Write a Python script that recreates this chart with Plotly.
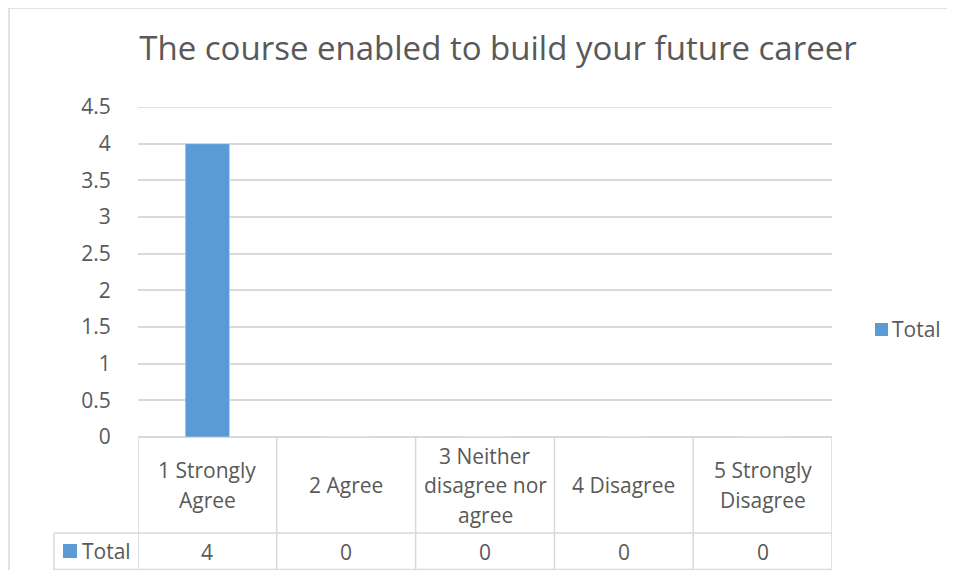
import plotly.graph_objects as go

categories = ["1 Strongly Agree", "2 Agree", "3 Neither disagree nor agree", "4 Disagree", "5 Strongly Disagree"]
category_lines = [["1 Strongly", "Agree"], ["2 Agree"], ["3 Neither", "disagree nor", "agree"],
                  ["4 Disagree"], ["5 Strongly", "Disagree"]]
totals = [4, 0, 0, 0, 0]
series_name = "Total"
y_ticks = [0, 0.5, 1, 1.5, 2, 2.5, 3, 3.5, 4, 4.5]
title_text = "The course enabled to build your future career"

# page has an 8px body margin; figure sized to fit without scrollbars
OFF = 8
W, H = 955 - 2 * OFF, 578 - 2 * OFF
# plot area in reference (page) pixel coordinates
L, R, T, B = 138, 832, 107, 437
PW, PH = R - L, B - T

def px(x):
    return (x - L) / PW

def py(y):
    return (B - y) / PH

BAR = "#5b9bd5"
GRID = "#d9d9d9"
TXT = "#595959"
FONT = "Open Sans"
FS = 21
LINE_H = 29.5

fig = go.Figure()
fig.add_trace(go.Bar(x=categories, y=totals, name=series_name, marker_color=BAR,
                     width=0.32, showlegend=False))

shapes = []
# outer chart border (top and left edges visible)
shapes.append(dict(type="line", xref="paper", yref="paper", x0=px(9), x1=px(960), y0=py(8), y1=py(8),
                   line=dict(color=GRID, width=1.5), layer="below"))
shapes.append(dict(type="line", xref="paper", yref="paper", x0=px(9), x1=px(9), y0=py(8), y1=py(600),
                   line=dict(color=GRID, width=1.5), layer="below"))
# top gridline at 4.5 (edge of range)
shapes.append(dict(type="line", xref="paper", yref="y", x0=0, x1=1, y0=y_ticks[-1], y1=y_ticks[-1],
                   line=dict(color=GRID, width=1.5), layer="below"))
# table vertical lines
for i in range(len(categories) + 1):
    shapes.append(dict(type="line", xref="x", yref="paper", x0=i - 0.5, x1=i - 0.5, y0=0, y1=py(570),
                       line=dict(color=GRID, width=1.5)))
# table horizontal lines
for yy in (533, 569.5):
    shapes.append(dict(type="line", xref="paper", yref="paper", x0=px(54), x1=1, y0=py(yy), y1=py(yy),
                       line=dict(color=GRID, width=1.5)))
shapes.append(dict(type="line", xref="paper", yref="paper", x0=px(54), x1=px(54), y0=py(533), y1=py(570),
                   line=dict(color=GRID, width=1.5)))
# legend key in table
shapes.append(dict(type="rect", xref="paper", yref="paper", x0=px(63), x1=px(77), y0=py(544), y1=py(558),
                   line=dict(width=0), fillcolor=BAR))
# legend key on the right
shapes.append(dict(type="rect", xref="paper", yref="paper", x0=px(875), x1=px(888), y0=py(323), y1=py(336),
                   line=dict(width=0), fillcolor=BAR))

annotations = []
for i, lines in enumerate(category_lines):
    n = len(lines)
    for k, line in enumerate(lines):
        yc = 485 + (k - (n - 1) / 2) * LINE_H
        annotations.append(dict(x=i, xref="x", y=py(yc), yref="paper", text=line, showarrow=False,
                                font=dict(family=FONT, size=FS, color=TXT),
                                xanchor="center", yanchor="middle"))
    annotations.append(dict(x=i, xref="x", y=py(552), yref="paper", text=str(totals[i]), showarrow=False,
                            font=dict(family=FONT, size=FS, color=TXT), xanchor="center", yanchor="middle"))
annotations.append(dict(x=px(80), xref="paper", y=py(551), yref="paper", text=series_name, showarrow=False,
                        font=dict(family=FONT, size=FS, color=TXT), xanchor="left", yanchor="middle"))
annotations.append(dict(x=px(890), xref="paper", y=py(329), yref="paper", text=series_name, showarrow=False,
                        font=dict(family=FONT, size=FS, color=TXT), xanchor="left", yanchor="middle"))

fig.update_layout(
    width=W, height=H,
    margin=dict(l=L - OFF, r=W - (R - OFF), t=T - OFF, b=H - (B - OFF)),
    paper_bgcolor="white", plot_bgcolor="white",
    title=dict(text=title_text, x=px(498), xref="paper", xanchor="center", y=1 - (48 - OFF) / H,
               yanchor="middle", font=dict(family=FONT, size=33, color=TXT)),
    xaxis=dict(type="category", range=[-0.5, 4.5], showticklabels=False, showgrid=False,
               showline=False, zeroline=False, ticks=""),
    yaxis=dict(range=[0, 4.5], tickvals=y_ticks, ticktext=[f"{v:g}" for v in y_ticks],
               showgrid=True, gridcolor=GRID, gridwidth=1.5, zeroline=True, zerolinecolor=GRID,
               zerolinewidth=1.5, showline=False, ticks="outside", ticklen=22,
               tickcolor="rgba(0,0,0,0)", tickfont=dict(family=FONT, size=FS, color=TXT)),
    showlegend=False,
    shapes=shapes, annotations=annotations,
    bargap=0.68,
)

fig.write_html("out.html")
